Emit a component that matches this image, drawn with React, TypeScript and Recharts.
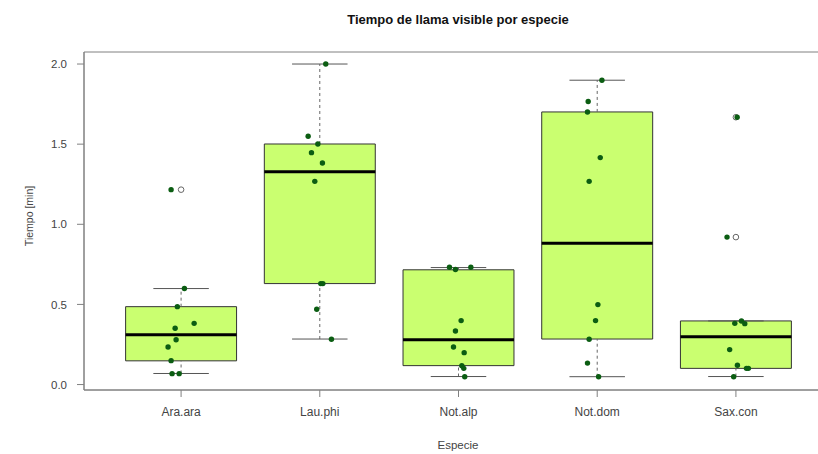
import React from "react";
import {
  ComposedChart,
  XAxis,
  YAxis,
  Scatter,
  ReferenceArea,
  ReferenceLine,
} from "recharts";

// species on the x axis
const species = ["Ara.ara", "Lau.phi", "Not.alp", "Not.dom", "Sax.con"];

// box statistics (min)
const lowerWhisker = [0.069, 0.284, 0.05, 0.049, 0.05];
const lowerHinge = [0.148, 0.63, 0.118, 0.284, 0.101];
const medians = [0.311, 1.328, 0.28, 0.882, 0.299];
const upperHinge = [0.486, 1.501, 0.716, 1.701, 0.397];
const upperWhisker = [0.599, 2.0, 0.73, 1.899, 0.397];

// outliers (open circles): [species index, value]
const outlierSpecies = [1, 5, 5];
const outlierValues = [1.216, 0.92, 1.668];

// observations per species, with the horizontal jitter seen in the plot
const araValues = [1.216, 0.599, 0.486, 0.382, 0.351, 0.28, 0.234, 0.149, 0.068, 0.068];
const araJitter = [-0.072, 0.024, -0.027, 0.094, -0.043, -0.036, -0.094, -0.072, -0.065, -0.014];
const lauValues = [2.0, 1.549, 1.501, 1.447, 1.382, 1.268, 0.63, 0.63, 0.47, 0.283];
const lauJitter = [0.043, -0.084, -0.014, -0.06, 0.019, -0.036, 0.007, 0.022, -0.022, 0.084];
const nalValues = [0.732, 0.718, 0.732, 0.399, 0.334, 0.234, 0.199, 0.118, 0.101, 0.049];
const nalJitter = [-0.065, -0.022, 0.089, 0.019, -0.022, -0.036, 0.041, 0.024, 0.038, 0.045];
const ndoValues = [1.899, 1.766, 1.701, 1.416, 1.268, 0.499, 0.399, 0.283, 0.134, 0.049];
const ndoJitter = [0.034, -0.065, -0.07, 0.022, -0.058, 0.005, -0.012, -0.058, -0.07, 0.01];
const saxValues = [1.668, 0.92, 0.397, 0.382, 0.38, 0.218, 0.12, 0.101, 0.101, 0.049];
const saxJitter = [0.009, -0.064, 0.04, -0.008, 0.064, -0.045, 0.011, 0.076, 0.09, -0.016];

const yTicks = [0, 0.5, 1, 1.5, 2];
const xTicks = [1, 2, 3, 4, 5];

const groups = [
  [araValues, araJitter],
  [lauValues, lauJitter],
  [nalValues, nalJitter],
  [ndoValues, ndoJitter],
  [saxValues, saxJitter],
];

const points = groups.flatMap(([vals, jit], i) =>
  vals.map((v, k) => ({ x: i + 1 + jit[k], y: v }))
);
const outliers = outlierValues.map((v, k) => ({ x: outlierSpecies[k], y: v }));

const FONT = "'Liberation Sans', Arial, sans-serif";
const BOX_FILL = "#caff70";
const DOT = "#0b5d12";

const Dot = (props: any) => <circle cx={props.cx} cy={props.cy} r={2.7} fill={DOT} />;
const OpenDot = (props: any) => (
  <circle cx={props.cx} cy={props.cy} r={2.8} fill="#fff" stroke="#666" strokeWidth={1} />
);

export default function App() {
  return (
    <div
      style={{
        position: "absolute",
        left: 0,
        top: 0,
        width: 818,
        height: 454,
        overflow: "hidden",
        background: "#fff",
        fontFamily: FONT,
      }}
    >
      <div
        style={{
          position: "absolute",
          left: 0,
          width: 916,
          top: 12,
          textAlign: "center",
          fontWeight: "bold",
          fontSize: 13,
          color: "#111",
        }}
      >
        Tiempo de llama visible por especie
      </div>
      <div
        style={{
          position: "absolute",
          left: 29,
          top: 216,
          transform: "translate(-50%, -50%) rotate(-90deg)",
          fontSize: 10.5,
          color: "#444",
          whiteSpace: "nowrap",
        }}
      >
        Tiempo [min]
      </div>
      <div
        style={{
          position: "absolute",
          left: 0,
          width: 916,
          top: 439,
          textAlign: "center",
          fontSize: 11.5,
          color: "#444",
        }}
      >
        Especie
      </div>

      <ComposedChart
        width={833}
        height={454}
        margin={{ top: 52, right: 0, bottom: 0, left: 0 }}
        style={{ position: "absolute", left: 0, top: 0 }}
      >
        <XAxis
          type="number"
          dataKey="x"
          domain={[0.3, 5.7]}
          ticks={xTicks}
          allowDataOverflow
          height={64}
          tickFormatter={(v: number) => species[v - 1]}
          tickSize={7}
          tickMargin={10}
          stroke="#808080"
          tick={{ fill: "#444", fontSize: 12, fontFamily: FONT }}
        />
        <YAxis
          type="number"
          dataKey="y"
          domain={[-0.034, 2.075]}
          ticks={yTicks}
          allowDataOverflow
          width={84}
          tickFormatter={(v: number) => v.toFixed(1)}
          tickSize={7}
          tickMargin={10}
          stroke="#808080"
          tick={{ fill: "#444", fontSize: 11.5, fontFamily: FONT }}
        />
        <ReferenceArea
          x1={0.3}
          x2={5.7}
          y1={-0.034}
          y2={2.075}
          fill="none"
          stroke="#808080"
          strokeWidth={1}
        />
        {species.map((s, i) => (
          <ReferenceLine
            key={"wu" + s}
            segment={[
              { x: i + 1, y: upperHinge[i] },
              { x: i + 1, y: upperWhisker[i] },
            ]}
            stroke="#666"
            strokeDasharray="3 3"
          />
        ))}
        {species.map((s, i) => (
          <ReferenceLine
            key={"wl" + s}
            segment={[
              { x: i + 1, y: lowerWhisker[i] },
              { x: i + 1, y: lowerHinge[i] },
            ]}
            stroke="#666"
            strokeDasharray="3 3"
          />
        ))}
        {species.map((s, i) => (
          <ReferenceLine
            key={"cu" + s}
            segment={[
              { x: i + 0.8, y: upperWhisker[i] },
              { x: i + 1.2, y: upperWhisker[i] },
            ]}
            stroke="#555"
          />
        ))}
        {species.map((s, i) => (
          <ReferenceLine
            key={"cl" + s}
            segment={[
              { x: i + 0.8, y: lowerWhisker[i] },
              { x: i + 1.2, y: lowerWhisker[i] },
            ]}
            stroke="#555"
          />
        ))}
        {species.map((s, i) => (
          <ReferenceArea
            key={"b" + s}
            x1={i + 0.6}
            x2={i + 1.4}
            y1={lowerHinge[i]}
            y2={upperHinge[i]}
            fill={BOX_FILL}
            fillOpacity={1}
            stroke="#333"
            strokeWidth={1}
          />
        ))}
        {species.map((s, i) => (
          <ReferenceLine
            key={"m" + s}
            segment={[
              { x: i + 0.6, y: medians[i] },
              { x: i + 1.4, y: medians[i] },
            ]}
            stroke="#000"
            strokeWidth={3}
          />
        ))}
        <Scatter data={outliers} shape={OpenDot} isAnimationActive={false} />
        <Scatter data={points} shape={Dot} isAnimationActive={false} />
      </ComposedChart>
    </div>
  );
}
